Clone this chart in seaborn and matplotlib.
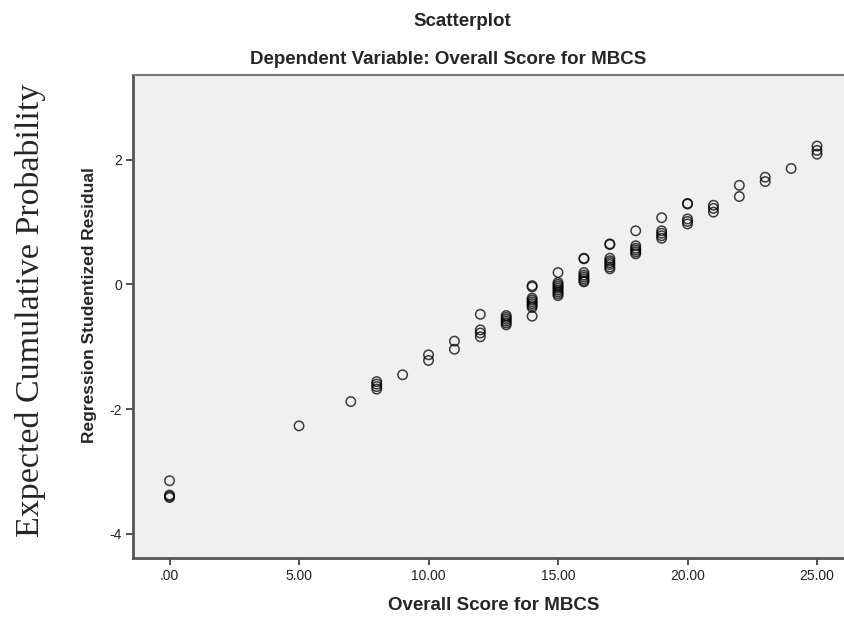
import matplotlib
matplotlib.use("Agg")
import matplotlib.pyplot as plt
import seaborn as sns
import pandas as pd

# residuals, grouped by score
scores = [0, 5, 7, 8, 9, 10, 11, 12, 13, 14, 15, 16, 17, 18, 19, 20, 21, 22, 23, 24, 25]
resid_groups = [
    [-3.15, -3.38, -3.40, -3.42],
    [-2.27],
    [-1.88],
    [-1.56, -1.60, -1.64, -1.68],
    [-1.45],
    [-1.13, -1.22],
    [-0.91, -1.04],
    [-0.48, -0.73, -0.78, -0.84],
    [-0.50, -0.53, -0.56, -0.59, -0.62, -0.65],
    [-0.02, -0.04, -0.22, -0.25, -0.28, -0.31, -0.34, -0.37, -0.51],
    [0.19, 0.03, 0.0, -0.03, -0.06, -0.09, -0.12, -0.15, -0.18],
    [0.41, 0.42, 0.19, 0.15, 0.12, 0.09, 0.06, 0.04],
    [0.64, 0.65, 0.42, 0.38, 0.35, 0.32, 0.28, 0.25],
    [0.86, 0.62, 0.58, 0.55, 0.52, 0.49],
    [1.07, 0.86, 0.82, 0.78, 0.74],
    [1.29, 1.30, 1.05, 1.01, 0.97],
    [1.27, 1.22, 1.16],
    [1.59, 1.41],
    [1.72, 1.65],
    [1.86],
    [2.22, 2.15, 2.09],
]
xticks = [0, 5, 10, 15, 20, 25]
xticklabels = [".00", "5.00", "10.00", "15.00", "20.00", "25.00"]
yticks = [-4, -2, 0, 2]
yticklabels = ["-4", "-2", "0", "2"]

rows = []
for s, g in zip(scores, resid_groups):
    for r in g:
        rows.append((s, r))
df = pd.DataFrame(rows, columns=["score", "resid"])

sns.set_style("white")
plt.rcParams["font.family"] = ["Liberation Sans", "DejaVu Sans"]

fig = plt.figure(figsize=(8.45, 6.19), dpi=100)
ax = fig.add_axes([133 / 845, 61 / 619, 712 / 845, 483 / 619])
ax.set_facecolor("#f0f0f0")

sns.scatterplot(data=df, x="score", y="resid", ax=ax, marker="o", s=46,
                facecolor="none", edgecolor="black", linewidth=1.1, alpha=0.75)

ax.set_xlim(-1.41, 26.08)
ax.set_ylim(-4.39, 3.36)
ax.set_xticks(xticks)
ax.set_xticklabels(xticklabels)
ax.set_yticks(yticks)
ax.set_yticklabels(yticklabels)
ax.tick_params(axis="both", direction="out", length=5, width=1.2, color="#333333",
               labelsize=10, labelcolor="#222222", bottom=True, left=True, pad=3)

for side in ["left", "bottom"]:
    ax.spines[side].set_color("#555555")
    ax.spines[side].set_linewidth(2)
ax.spines["top"].set_color("#777777")
ax.spines["top"].set_linewidth(1.5)
ax.spines["right"].set_visible(False)

ax.set_xlabel("Overall Score for MBCS", fontsize=13.5, fontweight="bold")
ax.xaxis.set_label_coords(0.507, -0.08)
ax.set_ylabel("Regression Studentized Residual", fontsize=12.5, fontweight="bold")
ax.yaxis.set_label_coords(-0.05, 0.524)

fig.text(462 / 845, 1 - 21 / 619, "Scatterplot", ha="center", va="center",
         fontsize=13.5, fontweight="bold")
fig.text(448 / 845, 1 - 60 / 619, "Dependent Variable: Overall Score for MBCS",
         ha="center", va="center", fontsize=13.5, fontweight="bold")
fig.text(31 / 845, 1 - 310 / 619, "Expected Cumulative Probability", rotation=90,
         ha="center", va="center", fontsize=24.5, family="Liberation Serif")

fig.savefig("out.png", dpi=100)
